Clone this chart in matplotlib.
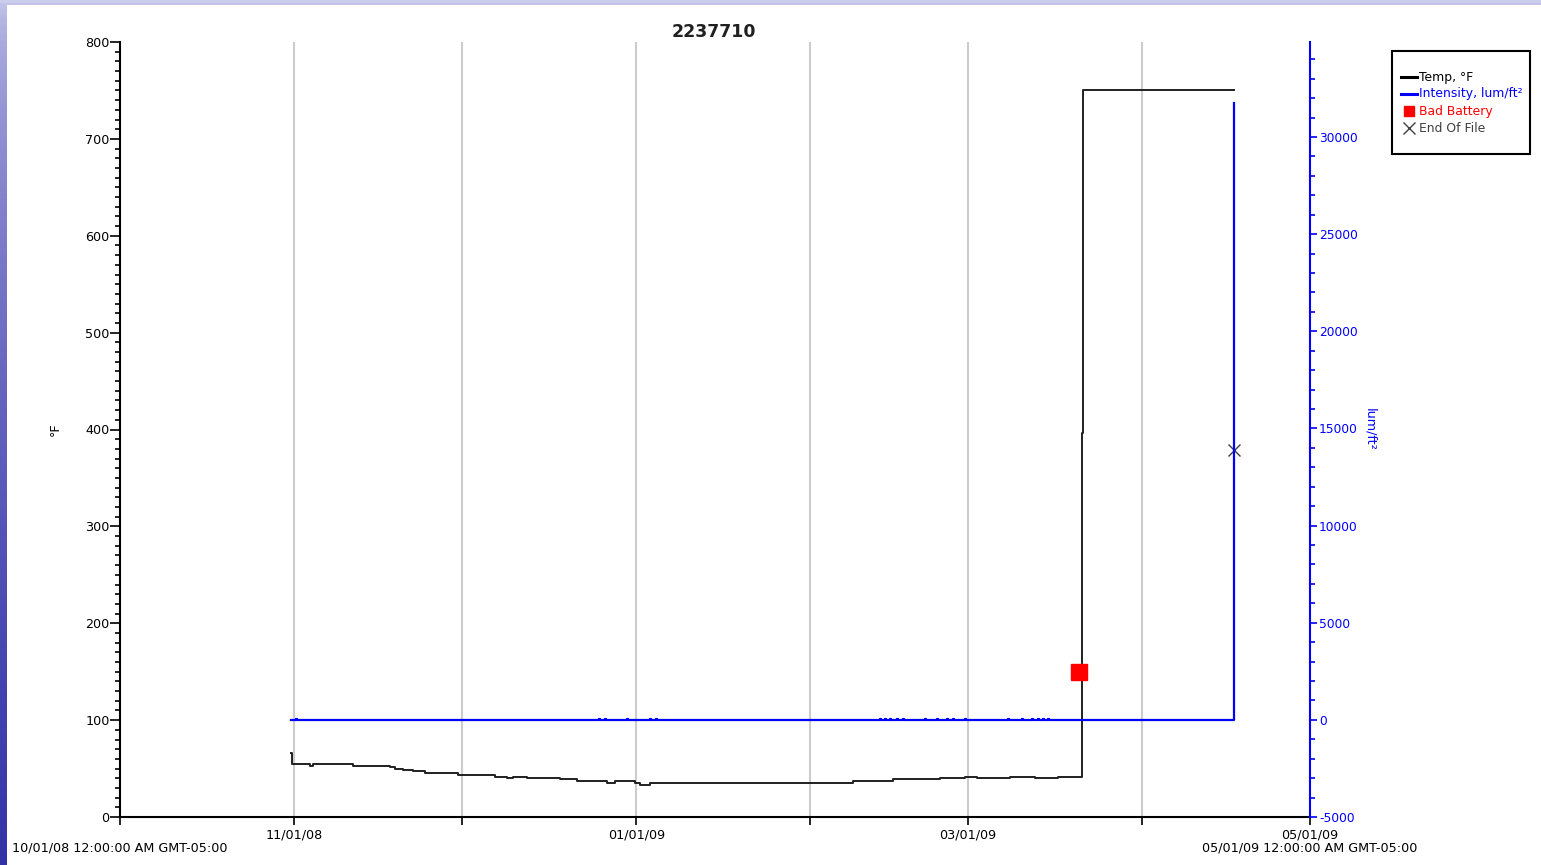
import numpy as np
import matplotlib.pyplot as plt
from matplotlib.lines import Line2D
from datetime import datetime, timedelta

start = datetime(2008, 10, 1)
end = datetime(2009, 5, 1)

# temperature steps: days after 10/01/08, value in °F
temp_day = [30.41, 30.64, 33.85, 34.38, 41.51, 48.1, 48.99, 50.42, 52.2, 54.34,
            60.22, 66.81, 68.95, 70.02, 72.51, 78.39, 81.42, 86.76, 88.19, 91.75,
            92.64, 94.42, 130.59, 137.71, 146.09, 150.54, 152.68, 158.56, 163.01,
            167.11, 171.39, 171.57, 198.47]
temp_val = [66, 55, 53, 54.7, 53, 51.5, 49.5, 48.5, 47, 45,
            43.3, 41.8, 40, 41.8, 40, 38.9, 37.1, 35.5, 37.6, 35.5,
            33.4, 35.4, 37.6, 38.9, 40.2, 41.5, 40.2, 41.5, 40.2,
            41.5, 396, 750, 750]

# intensity: flat zero with small blips, then jump at end of file
intensity_start = 30.41
intensity_end = 198.47
intensity_final = 31750
blip_days = [31.4, 85.4, 86.4, 90.3, 94.4, 95.5, 135.4, 136.3, 137.2, 138.4, 139.5,
             143.4, 145.5, 147.3, 148.4, 150.5, 158.2, 160.7, 162.5, 163.5, 164.4, 165.3]
blip_val = 60

bad_battery = (170.85, 150)
end_of_file = (198.47, 379)

legend_labels = ['Temp, °F', 'Intensity, lum/ft²', 'Bad Battery', 'End Of File']
legend_colors = ['black', '#0000ff', '#ff0000', '#404040']


def to_dates(days):
    return [start + timedelta(days=d) for d in days]


# build intensity step series
i_day = [intensity_start]
i_val = [0]
for b in blip_days:
    i_day += [b, b + 0.2]
    i_val += [blip_val, 0]
i_day += [intensity_end, intensity_end]
i_val += [0, intensity_final]

plt.rcParams['font.family'] = ['DejaVu Sans']
plt.rcParams['font.size'] = 9.2
plt.rcParams['axes.unicode_minus'] = False

W, H = 1541, 865
fig = plt.figure(figsize=(W / 100, H / 100), dpi=100)

# slide background: blue gradient strips on left and top
bg = fig.add_axes([0, 0, 1, 1])
grad = np.linspace(0, 1, 256).reshape(-1, 1)
top_c = np.array([0.80, 0.80, 0.93])
bot_c = np.array([0.20, 0.20, 0.66])
img = top_c + np.sqrt(grad) * (bot_c - top_c)
bg.imshow(img.reshape(256, 1, 3), aspect='auto', extent=[0, 1, 0, 1], origin='upper')
bg.add_patch(plt.Rectangle((7 / W, 0), 1, 1 - 5 / H, color='white', lw=0))
bg.set_xlim(0, 1)
bg.set_ylim(0, 1)
bg.axis('off')

ax = fig.add_axes([120 / W, 1 - 817 / H, 1190 / W, 775 / H])
ax.set_facecolor('none')
ax2 = ax.twinx()

ax.step(to_dates(temp_day), temp_val, where='post', color='#202020', lw=1.4, zorder=3)
ax2.step(to_dates(i_day), i_val, where='post', color='#0000ff', lw=1.6, zorder=2)
ax.plot(to_dates([bad_battery[0]]), [bad_battery[1]], 's', color='#ff0000',
        ms=12, zorder=5)
ax.plot(to_dates([end_of_file[0]]), [end_of_file[1]], 'x', color='#404040',
        ms=9, mew=1, zorder=5)

ax.set_xlim(start, end)
ax.set_ylim(0, 800)
ax2.set_ylim(-5000, 34894)

months = [datetime(2008, m, 1) for m in (10, 11, 12)] + \
         [datetime(2009, m, 1) for m in (1, 2, 3, 4, 5)]
ax.set_xticks(months)
lbl = []
for m in months:
    lbl.append(m.strftime('%m/%d/%y') if m.month in (11, 1, 3, 5) else '')
ax.set_xticklabels(lbl)
for m in months[1:-1]:
    ax.axvline(m, color='#cccccc', lw=1.5, zorder=0)

ax.set_yticks(np.arange(0, 801, 100))
ax.set_yticks(np.arange(0, 801, 10), minor=True)
ax2.set_yticks(np.arange(-5000, 30001, 5000))
ax2.set_yticks(np.arange(-5000, 34001, 1000), minor=True)

for s in ('top', 'right'):
    ax.spines[s].set_visible(False)
for s in ('top', 'left', 'bottom'):
    ax2.spines[s].set_visible(False)
ax.spines['left'].set_linewidth(1.5)
ax.spines['bottom'].set_linewidth(1.5)
ax2.spines['right'].set_color('#0000ff')
ax2.spines['right'].set_linewidth(1.5)

ax.tick_params(axis='y', which='major', length=7, width=1.2, pad=0.5, colors='black')
ax.tick_params(axis='y', which='minor', length=3.6, width=1.2)
ax.tick_params(axis='x', which='major', length=6, width=1.2, pad=2)
ax2.tick_params(axis='y', which='major', length=5, width=1.2, pad=1.5,
                colors='#0000ff', labelsize=8.8)
ax2.tick_params(axis='y', which='minor', length=3.6, width=1.2, colors='#0000ff')

ax.set_ylabel('°F')
ax.yaxis.set_label_coords(-(120 - 62) / 1190, 0.5)
ax2.set_ylabel('lum/ft²', color='#0000ff', rotation=-90, labelpad=0)
ax2.yaxis.set_label_coords(1 + (1376 - 1310) / 1190, 0.5)

fig.text(714 / W, 1 - 32 / H, '2237710', ha='center', va='center',
         fontsize=12.5, fontweight='bold', color='#202020')
fig.text(12 / W, 1 - 848 / H, '10/01/08 12:00:00 AM GMT-05:00',
         ha='left', va='center')
fig.text(1310 / W, 1 - 848 / H, '05/01/09 12:00:00 AM GMT-05:00',
         ha='center', va='center')

# legend box drawn in figure pixels
lx0, ly0, lx1, ly1 = 1392, 51, 1530, 154
fig.patches.append(plt.Rectangle((lx0 / W, 1 - ly1 / H), (lx1 - lx0) / W,
                                 (ly1 - ly0) / H, transform=fig.transFigure,
                                 facecolor='white', edgecolor='black', lw=1.5))
rows = [77, 94, 111, 128]
for k, (lab, col, y) in enumerate(zip(legend_labels, legend_colors, rows)):
    yf = 1 - y / H
    if k < 2:
        fig.add_artist(Line2D([1401 / W, 1417 / W], [yf, yf], color=col, lw=2.2,
                              transform=fig.transFigure))
    elif k == 2:
        fig.add_artist(Line2D([1409 / W], [yf], marker='s', color=col, ms=7,
                              ls='none', transform=fig.transFigure))
    else:
        fig.add_artist(Line2D([1409 / W], [yf], marker='x', color=col, ms=8,
                              mew=1, ls='none', transform=fig.transFigure))
    fig.text(1419 / W, yf, lab, color=col, ha='left', va='center', fontsize=8.9)

fig.savefig('out.png', dpi=100)
